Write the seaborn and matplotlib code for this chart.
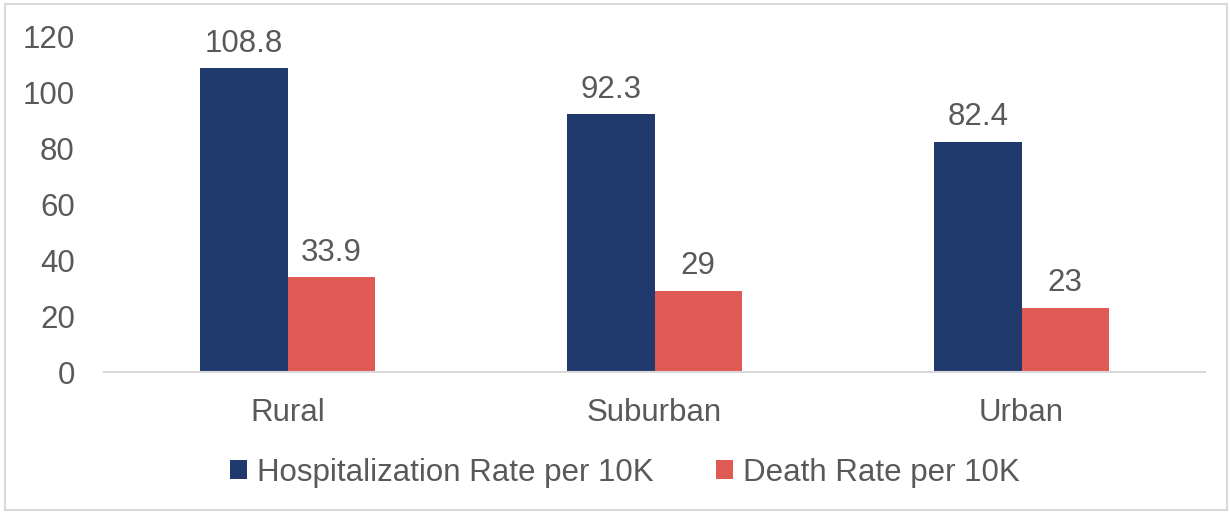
import matplotlib
matplotlib.use("Agg")
import matplotlib.pyplot as plt
from matplotlib.patches import Rectangle
import seaborn as sns
import pandas as pd

categories = ["Rural", "Suburban", "Urban"]
hospitalization = [108.8, 92.3, 82.4]
death = [33.9, 29, 23]
series_names = ["Hospitalization Rate per 10K", "Death Rate per 10K"]
y_ticks = [0, 20, 40, 60, 80, 100, 120]

colors = ["#203A6E", "#E05A55"]
text_color = "#595959"
line_color = "#D9D9D9"
fs = 22.5

df = pd.DataFrame({
    "Area": categories * 2,
    "Rate": hospitalization + death,
    "Series": [series_names[0]] * 3 + [series_names[1]] * 3,
})

sns.set_style("white")
plt.rcParams["font.family"] = ["Liberation Sans", "DejaVu Sans"]

fig = plt.figure(figsize=(12.3, 5.12), dpi=100)
ax = fig.add_axes([104 / 1230, 1 - 372 / 512, (1205 - 104) / 1230, (372 - 37) / 512])

sns.barplot(data=df, x="Area", y="Rate", hue="Series", palette=colors,
            width=0.477, gap=0, saturation=1, linewidth=0, ax=ax, legend=True)

ax.set_ylim(0, 120)
ax.set_xlim(-0.5, 2.5)
ax.set_yticks(y_ticks)
ax.set_yticklabels([str(t) for t in y_ticks])
ax.set_xlabel("")
ax.set_ylabel("")
ax.tick_params(axis="both", length=0, labelsize=fs, colors=text_color)
ax.tick_params(axis="y", pad=21)
ax.tick_params(axis="x", pad=19)

for side in ["top", "right", "left"]:
    ax.spines[side].set_visible(False)
ax.spines["bottom"].set_color(line_color)
ax.spines["bottom"].set_linewidth(1.5)

for container in ax.containers:
    ax.bar_label(container, labels=[f"{v:g}" for v in container.datavalues],
                 padding=7, fontsize=fs, color=text_color)

handles, labels = ax.get_legend_handles_labels()
ax.legend(handles, labels, loc="center", bbox_to_anchor=(0.473, -0.3),
          ncol=2, frameon=False, fontsize=fs, labelcolor=text_color,
          handlelength=0.55, handleheight=0.55, handletextpad=0.3,
          columnspacing=2.0)

fig.patches.append(Rectangle((5 / 1230, 2 / 512), 1222 / 1230, 506 / 512,
                             transform=fig.transFigure, fill=False,
                             edgecolor=line_color, linewidth=1.5))

fig.savefig("out.png", dpi=100)
